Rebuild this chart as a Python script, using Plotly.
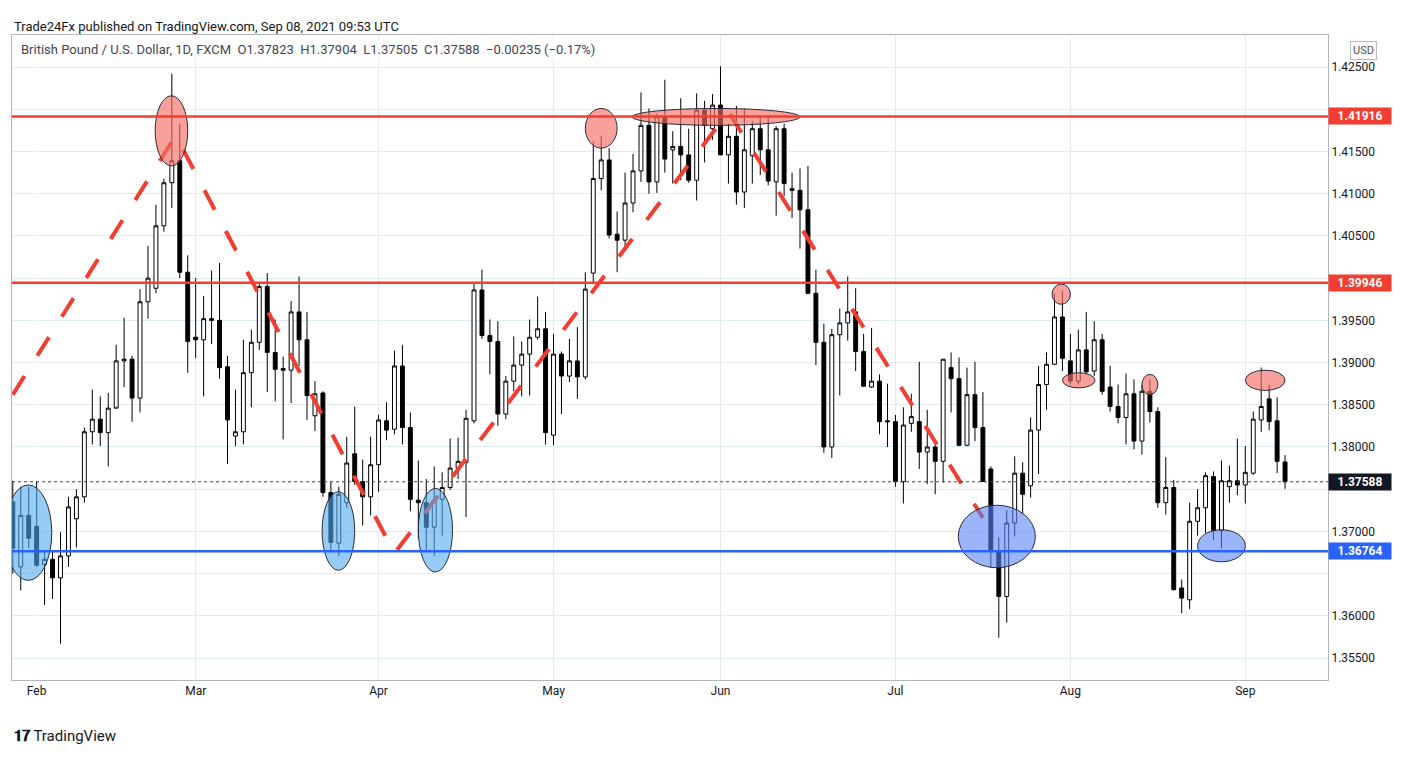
import plotly.graph_objects as go
import pandas as pd

# Daily GBPUSD candles (FXCM, 1D)
dates = pd.bdate_range("2021-01-27", "2021-09-08").strftime("%Y-%m-%d").tolist()

opens = [1.3735, 1.3658, 1.3719, 1.3706, 1.3661, 1.3667, 1.3645, 1.3671, 1.3715, 1.3741,
         1.3818, 1.3833, 1.3817, 1.3846, 1.3902, 1.3904, 1.3858, 1.3972, 1.3988, 1.4062,
         1.4113, 1.4139, 1.4007, 1.3930, 1.3927, 1.3952, 1.3950, 1.3895, 1.3813, 1.3818,
         1.3888, 1.3924, 1.3990, 1.3912, 1.3893, 1.3891, 1.3960, 1.3927, 1.3837, 1.3864,
         1.3746, 1.3686, 1.3734, 1.3792, 1.3759, 1.3741, 1.3779, 1.3831, 1.3821, 1.3896,
         1.3823, 1.3737, 1.3734, 1.3705, 1.3738, 1.3752, 1.3775, 1.3782, 1.3831, 1.3986,
         1.3932, 1.3925, 1.3839, 1.3878, 1.3897, 1.3910, 1.3930, 1.3940, 1.3814, 1.3910,
         1.3884, 1.3902, 1.3883, 1.4006, 1.4118, 1.4140, 1.4052, 1.4045, 1.4089, 1.4127,
         1.4181, 1.4114, 1.4191, 1.4152, 1.4156, 1.4146, 1.4116, 1.4199, 1.4177, 1.4205,
         1.4146, 1.4168, 1.4102, 1.4145, 1.4177, 1.4152, 1.4114, 1.4177, 1.4106, 1.4104,
         1.4081, 1.3982, 1.3924, 1.3800, 1.3933, 1.3947, 1.3960, 1.3913, 1.3871, 1.3878,
         1.3831, 1.3830, 1.3759, 1.3828, 1.3830, 1.3794, 1.3800, 1.3783, 1.3894, 1.3881,
         1.3802, 1.3862, 1.3823, 1.3774, 1.3677, 1.3623, 1.3710, 1.3769, 1.3754, 1.3820,
         1.3874, 1.3898, 1.3954, 1.3902, 1.3878, 1.3915, 1.3890, 1.3927, 1.3871, 1.3848,
         1.3835, 1.3863, 1.3807, 1.3866, 1.3842, 1.3734, 1.3752, 1.3633, 1.3619, 1.3712,
         1.3728, 1.3765, 1.3701, 1.3753, 1.3760, 1.3755, 1.3769, 1.3832, 1.3857, 1.3831,
         1.37823]
highs = [1.3760, 1.3753, 1.3753, 1.3759, 1.3676, 1.3676, 1.3699, 1.3741, 1.3750, 1.3823,
         1.3868, 1.3860, 1.3864, 1.3921, 1.3953, 1.3908, 1.3987, 1.4038, 1.4087, 1.4118,
         1.4242, 1.4183, 1.4027, 1.4000, 1.3979, 1.4009, 1.4018, 1.3908, 1.3868, 1.3927,
         1.3939, 1.3994, 1.4006, 1.3951, 1.3907, 1.3973, 1.4002, 1.3960, 1.3878, 1.3866,
         1.3759, 1.3753, 1.3812, 1.3848, 1.3785, 1.3812, 1.3838, 1.3853, 1.3914, 1.3921,
         1.3841, 1.3784, 1.3762, 1.3777, 1.3770, 1.3810, 1.3811, 1.3844, 1.3994, 1.4010,
         1.3951, 1.3949, 1.3884, 1.3931, 1.3925, 1.3951, 1.3978, 1.3960, 1.3934, 1.3913,
         1.3928, 1.3942, 1.4007, 1.4162, 1.4168, 1.4154, 1.4079, 1.4125, 1.4147, 1.4220,
         1.4201, 1.4195, 1.4235, 1.4174, 1.4213, 1.4177, 1.4219, 1.4210, 1.4218, 1.4251,
         1.4183, 1.4204, 1.4201, 1.4186, 1.4190, 1.4190, 1.4180, 1.4183, 1.4125, 1.4130,
         1.4133, 1.4010, 1.3946, 1.3940, 1.3964, 1.4002, 1.3988, 1.3934, 1.3941, 1.3886,
         1.3875, 1.3838, 1.3847, 1.3863, 1.3901, 1.3844, 1.3808, 1.3904, 1.3912, 1.3906,
         1.3894, 1.3901, 1.3865, 1.3777, 1.3693, 1.3725, 1.3789, 1.3782, 1.3835, 1.3896,
         1.3912, 1.3982, 1.3985, 1.3934, 1.3939, 1.3960, 1.3949, 1.3934, 1.3896, 1.3874,
         1.3887, 1.3880, 1.3874, 1.3880, 1.3847, 1.3788, 1.3761, 1.3643, 1.3734, 1.3750,
         1.3770, 1.3771, 1.3784, 1.3778, 1.3810, 1.3801, 1.3842, 1.3894, 1.3874, 1.3859,
         1.37904]
lows = [1.3650, 1.3630, 1.3680, 1.3658, 1.3613, 1.3620, 1.3567, 1.3658, 1.3681, 1.3734,
        1.3803, 1.3801, 1.3777, 1.3848, 1.3871, 1.3830, 1.3841, 1.3952, 1.3982, 1.4055,
        1.4083, 1.4000, 1.3888, 1.3905, 1.3860, 1.3922, 1.3881, 1.3780, 1.3801, 1.3803,
        1.3847, 1.3915, 1.3865, 1.3854, 1.3809, 1.3852, 1.3896, 1.3832, 1.3819, 1.3741,
        1.3678, 1.3671, 1.3728, 1.3755, 1.3707, 1.3719, 1.3747, 1.3808, 1.3815, 1.3803,
        1.3724, 1.3691, 1.3676, 1.3671, 1.3695, 1.3749, 1.3762, 1.3717, 1.3828, 1.3928,
        1.3886, 1.3825, 1.3833, 1.3866, 1.3860, 1.3861, 1.3927, 1.3803, 1.3802, 1.3839,
        1.3877, 1.3857, 1.3880, 1.3993, 1.4104, 1.4047, 1.4007, 1.4037, 1.4078, 1.4114,
        1.4100, 1.4101, 1.4125, 1.4112, 1.4116, 1.4113, 1.4092, 1.4137, 1.4164, 1.4146,
        1.4112, 1.4087, 1.4083, 1.4112, 1.4122, 1.4110, 1.4074, 1.4097, 1.4071, 1.4035,
        1.3982, 1.3897, 1.3793, 1.3787, 1.3861, 1.3926, 1.3890, 1.3871, 1.3870, 1.3815,
        1.3800, 1.3753, 1.3733, 1.3818, 1.3774, 1.3756, 1.3744, 1.3758, 1.3841, 1.3801,
        1.3801, 1.3807, 1.3759, 1.3657, 1.3574, 1.3592, 1.3694, 1.3721, 1.3740, 1.3768,
        1.3844, 1.3897, 1.3890, 1.3874, 1.3874, 1.3886, 1.3884, 1.3862, 1.3842, 1.3828,
        1.3803, 1.3797, 1.3791, 1.3829, 1.3728, 1.3720, 1.3630, 1.3603, 1.3608, 1.3695,
        1.3698, 1.3690, 1.3680, 1.3734, 1.3743, 1.3733, 1.3767, 1.3818, 1.3820, 1.3769,
        1.37505]
closes = [1.3680, 1.3719, 1.3692, 1.3660, 1.3667, 1.3645, 1.3671, 1.3729, 1.3741, 1.3818,
          1.3833, 1.3817, 1.3846, 1.3902, 1.3904, 1.3858, 1.3972, 1.4000, 1.4062, 1.4113,
          1.4139, 1.4007, 1.3925, 1.3927, 1.3952, 1.3950, 1.3894, 1.3832, 1.3818, 1.3888,
          1.3924, 1.3990, 1.3912, 1.3892, 1.3891, 1.3960, 1.3927, 1.3861, 1.3863, 1.3746,
          1.3687, 1.3744, 1.3781, 1.3759, 1.3741, 1.3779, 1.3832, 1.3820, 1.3896, 1.3823,
          1.3738, 1.3734, 1.3705, 1.3737, 1.3752, 1.3775, 1.3783, 1.3834, 1.3986, 1.3932,
          1.3925, 1.3839, 1.3878, 1.3897, 1.3910, 1.3930, 1.3940, 1.3817, 1.3910, 1.3884,
          1.3902, 1.3883, 1.3987, 1.4118, 1.4140, 1.4051, 1.4045, 1.4089, 1.4127, 1.4181,
          1.4114, 1.4191, 1.4141, 1.4156, 1.4146, 1.4116, 1.4199, 1.4181, 1.4205, 1.4146,
          1.4168, 1.4102, 1.4152, 1.4177, 1.4152, 1.4115, 1.4177, 1.4112, 1.4104, 1.4081,
          1.3982, 1.3924, 1.3800, 1.3933, 1.3947, 1.3960, 1.3913, 1.3872, 1.3878, 1.3830,
          1.3830, 1.3759, 1.3826, 1.3836, 1.3794, 1.3800, 1.3783, 1.3904, 1.3881, 1.3802,
          1.3862, 1.3823, 1.3759, 1.3677, 1.3623, 1.3710, 1.3769, 1.3744, 1.3820, 1.3874,
          1.3898, 1.3954, 1.3905, 1.3878, 1.3915, 1.3889, 1.3927, 1.3866, 1.3848, 1.3835,
          1.3863, 1.3807, 1.3866, 1.3842, 1.3734, 1.3752, 1.3631, 1.3621, 1.3712, 1.3728,
          1.3766, 1.3701, 1.3760, 1.3760, 1.3755, 1.3770, 1.3833, 1.3848, 1.3830, 1.3783,
          1.37588]

# month tick labels and the trading day they sit on
tick_dates = ["2021-02-01", "2021-03-01", "2021-04-01", "2021-05-03",
              "2021-06-01", "2021-07-01", "2021-08-02", "2021-09-01"]
tick_labels = ["Feb", "Mar", "Apr", "May", "Jun", "Jul", "Aug", "Sep"]

# price scale ticks (labels hidden where a level tag sits on top)
price_ticks = [1.355, 1.360, 1.365, 1.370, 1.375, 1.380, 1.385, 1.390, 1.395,
               1.400, 1.405, 1.410, 1.415, 1.420, 1.425]
hidden_ticks = [1.365, 1.375, 1.400, 1.420]

# drawn levels
resistance_hi = 1.41916
resistance_lo = 1.39946
support = 1.36764
last_close = 1.37588

# red dashed zigzag (trading-day index, price)
zig_x = [-3, 17.5, 45, 87, 119]
zig_y = [1.3862, 1.4169, 1.3674, 1.4197, 1.3716]

# highlight ellipses: x0, x1 (trading-day index), y0, y1 (price), kind
ellipses = [
    (-4.0, 1.9, 1.3642, 1.3755, "blue"),
    (14.9, 19.0, 1.4133, 1.4216, "red"),
    (35.9, 40.0, 1.3654, 1.3747, "blue"),
    (48.0, 52.3, 1.3652, 1.3751, "blue"),
    (69.0, 73.0, 1.4154, 1.4201, "red"),
    (74.9, 96.0, 1.4181, 1.4201, "red"),
    (115.9, 125.6, 1.3657, 1.3731, "blue2"),
    (127.7, 130.0, 1.3969, 1.3993, "red"),
    (129.0, 133.1, 1.3870, 1.3888, "red"),
    (139.0, 141.0, 1.3862, 1.3886, "red"),
    (146.0, 152.0, 1.3664, 1.3702, "blue2"),
    (152.0, 157.0, 1.3867, 1.3891, "red"),
]

start = dates.index("2021-02-01")
xs = [i - start for i in range(len(dates))]
tick_vals = [dates.index(d) - start for d in tick_dates]
price_text = ["" if any(abs(t - h) < 1e-9 for h in hidden_ticks) else f"{t:.5f}"
              for t in price_ticks]

RED = "#f23d30"
BLUE = "#2962ff"
fills = {"red": "rgba(242,110,100,0.65)", "blue": "rgba(80,170,240,0.6)",
         "blue2": "rgba(90,130,245,0.6)"}

fig = go.Figure()

fig.add_trace(go.Candlestick(
    x=xs, open=opens, high=highs, low=lows, close=closes,
    increasing=dict(line=dict(color="black", width=1), fillcolor="white"),
    decreasing=dict(line=dict(color="black", width=1), fillcolor="black"),
    whiskerwidth=0, showlegend=False, hoverinfo="skip",
))

fig.add_trace(go.Scatter(
    x=zig_x, y=zig_y, mode="lines",
    line=dict(color=RED, width=4, dash="22px,24px"),
    showlegend=False, hoverinfo="skip",
))

for x0, x1, y0, y1, kind in ellipses:
    fig.add_shape(type="circle", xref="x", yref="y", x0=x0, x1=x1, y0=y0, y1=y1,
                  fillcolor=fills[kind], line=dict(color="#2b2b3a", width=1))

for lvl, col in [(resistance_hi, RED), (resistance_lo, RED), (support, BLUE)]:
    fig.add_shape(type="line", xref="paper", yref="y", x0=0, x1=1, y0=lvl, y1=lvl,
                  line=dict(color=col, width=2.5))
fig.add_shape(type="line", xref="paper", yref="y", x0=0, x1=1,
              y0=last_close, y1=last_close, line=dict(color="#444", width=1, dash="dot"))

for lvl, col in [(resistance_hi, RED), (resistance_lo, RED), (last_close, "#131722"), (support, BLUE)]:
    fig.add_annotation(xref="paper", yref="y", x=1.0, y=lvl, xanchor="left",
                       text=f"<b>{lvl:.5f}</b>", showarrow=False, bgcolor=col,
                       font=dict(color="white", size=12, family="Roboto"),
                       width=62, height=16, borderpad=0)

# header texts
fig.add_annotation(xref="paper", yref="paper", x=0.0, y=1.0, yshift=18, xanchor="left",
                   text="Trade24Fx published on TradingView.com, Sep 08, 2021 09:53 UTC",
                   showarrow=False, font=dict(size=13, color="#131722"))
fig.add_annotation(xref="paper", yref="paper", x=0.005, y=0.993, xanchor="left", yanchor="top",
                   text="British Pound / U.S. Dollar, 1D, FXCM  O1.37823  H1.37904  L1.37505  "
                        "C1.37588  −0.00235 (−0.17%)",
                   showarrow=False, bgcolor="white", font=dict(size=13, color="#434651"))
fig.add_annotation(xref="paper", yref="paper", x=1.0, y=0.99, xshift=22, xanchor="left",
                   yanchor="top", text="USD", showarrow=False, bordercolor="#bbb",
                   borderwidth=1, borderpad=2, font=dict(size=11, color="#555"))
fig.add_annotation(xref="paper", yref="paper", x=0.0, y=0, yshift=-67, xanchor="left",
                   text="<b>𝟏𝟕</b> TradingView", showarrow=False,
                   font=dict(size=15, color="#131722"))

fig.update_layout(
    width=1414, height=757,
    margin=dict(l=4, r=94, t=27, b=85, autoexpand=False),
    paper_bgcolor="white", plot_bgcolor="white",
    font=dict(family="Roboto, Noto Sans, sans-serif", color="#131722"),
)
fig.update_xaxes(
    range=[-3.1, 162.4], tickvals=tick_vals, ticktext=tick_labels, automargin=False,
    showgrid=True, gridcolor="#e3ebf2", rangeslider_visible=False,
    showline=True, linecolor="#b2b5be", mirror=True, ticks="", tickfont=dict(size=12),
)
fig.update_yaxes(
    side="right", range=[1.3524, 1.4288], tickvals=price_ticks, ticktext=price_text,
    automargin=False,
    showgrid=True, gridcolor="#e3ebf2", showline=True, linecolor="#b2b5be", mirror=True,
    ticks="", tickfont=dict(size=12), zeroline=False,
)

fig.write_html("out.html")
